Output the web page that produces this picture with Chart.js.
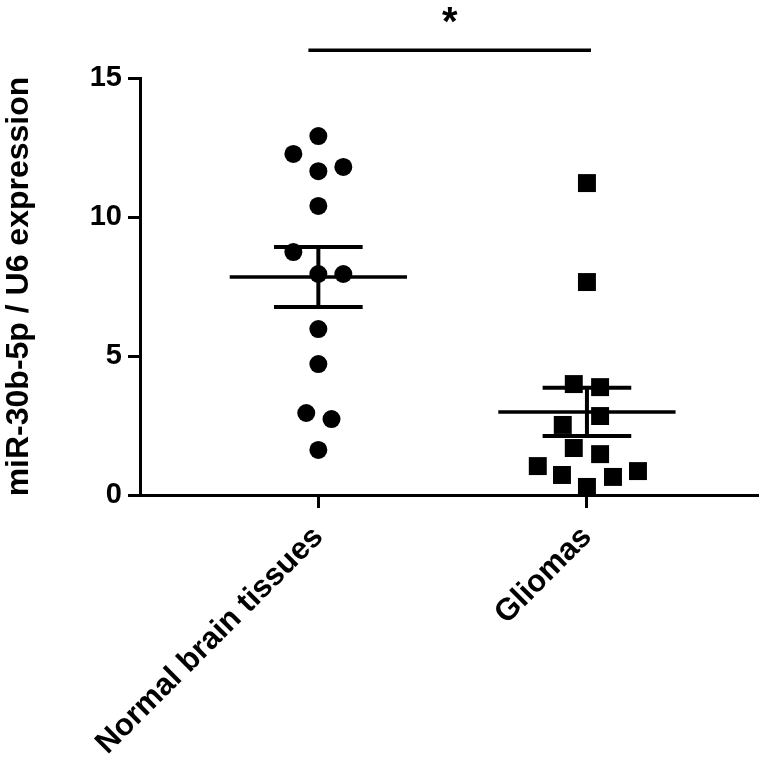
<!DOCTYPE html>
<html>
<head>
<meta charset="utf-8">
<script src="https://cdn.jsdelivr.net/npm/chart.js@4"></script>
<style>
  html, body { margin: 0; padding: 0; background: #fff; }
  #wrap { width: 771px; height: 760px; }
</style>
</head>
<body>
<div id="wrap"><canvas id="dotChart" width="771" height="760"></canvas></div>
<script>
// miR-30b-5p 表現量散點圖 (mean ± SEM)

const groupNames = ['Normal brain tissues', 'Gliomas'];
const groupPos = [1, 2];

// 正常腦組織 (圓點)
const normalX = [1, 0.907, 1, 1.093, 1, 0.907, 1, 1.093, 1, 1, 0.955, 1.049, 1];
const normalY = [12.91, 12.27, 11.65, 11.80, 10.40, 8.74, 7.95, 7.95, 5.97, 4.71, 2.95, 2.73, 1.62];

// 膠質瘤 (方塊)
const gliomaX = [2, 2, 1.951, 2.049, 2.049, 1.910, 1.951, 2.049, 1.817, 1.907, 2.097, 2.190, 2];
const gliomaY = [11.22, 7.66, 3.99, 3.88, 2.84, 2.52, 1.69, 1.47, 1.04, 0.72, 0.65, 0.86, 0.29];

const meanValues = [7.84, 2.99];
const semValues = [1.08, 0.87];

const yTicks = [0, 5, 10, 15];
const sigSpan = [0.963, 2.015];
const sigLevel = 16.0;
const sigLabel = '*';

const FONT = "Arial, 'Liberation Sans', sans-serif";
const MEAN_HALF = 0.33;
const CAP_HALF = 0.165;

function toPoints(xs, ys) {
    return xs.map((x, i) => ({ x: x, y: ys[i] }));
}

function lineSet(points, width) {
    return {
        type: 'line',
        data: points,
        showLine: true,
        borderColor: '#000',
        borderWidth: width,
        pointRadius: 0,
        fill: false,
        clip: false
    };
}

const datasets = [
    {
        label: groupNames[0],
        data: toPoints(normalX, normalY),
        pointStyle: 'circle',
        pointRadius: 9,
        backgroundColor: '#000',
        borderWidth: 0,
        clip: false
    },
    {
        label: groupNames[1],
        data: toPoints(gliomaX, gliomaY),
        pointStyle: 'rect',
        pointRadius: 12.7,
        backgroundColor: '#000',
        borderWidth: 0,
        clip: false
    }
];

// 平均線與誤差線
groupPos.forEach((c, i) => {
    const m = meanValues[i], s = semValues[i];
    datasets.push(lineSet([{ x: c - MEAN_HALF, y: m }, { x: c + MEAN_HALF, y: m }], 3.5));
    datasets.push(lineSet([{ x: c, y: m - s }, { x: c, y: m + s }], 4));
    datasets.push(lineSet([{ x: c - CAP_HALF, y: m + s }, { x: c + CAP_HALF, y: m + s }], 4));
    datasets.push(lineSet([{ x: c - CAP_HALF, y: m - s }, { x: c + CAP_HALF, y: m - s }], 4));
});

// 顯著性橫線
datasets.push(lineSet([{ x: sigSpan[0], y: sigLevel }, { x: sigSpan[1], y: sigLevel }], 3.5));

const sigStarPlugin = {
    id: 'sigStar',
    afterDatasetsDraw(chart) {
        const { ctx, scales } = chart;
        const x = scales.x.getPixelForValue((sigSpan[0] + sigSpan[1]) / 2);
        const y = scales.y.getPixelForValue(sigLevel);
        ctx.save();
        ctx.fillStyle = '#000';
        ctx.font = 'bold 40px ' + FONT;
        ctx.textAlign = 'center';
        ctx.textBaseline = 'alphabetic';
        ctx.fillText(sigLabel, x, y - 15);
        ctx.restore();
    }
};

new Chart(document.getElementById('dotChart').getContext('2d'), {
    type: 'scatter',
    data: { datasets: datasets },
    options: {
        responsive: false,
        animation: false,
        layout: { padding: { top: 78, right: 0, bottom: 0, left: 0 } },
        plugins: {
            legend: { display: false },
            tooltip: { enabled: false }
        },
        scales: {
            x: {
                type: 'linear',
                min: 0.336,
                max: 2.638,
                afterBuildTicks: (axis) => { axis.ticks = groupPos.map(v => ({ value: v })); },
                afterFit: (axis) => {
                    axis.height = 265;
                    axis.paddingLeft = 0;
                    axis.paddingRight = 0;
                },
                grid: {
                    drawOnChartArea: false,
                    tickLength: 13,
                    tickWidth: 3,
                    tickColor: '#000'
                },
                border: { display: true, color: '#000', width: 3 },
                ticks: {
                    autoSkip: false,
                    minRotation: 45,
                    maxRotation: 45,
                    padding: 11,
                    color: '#000',
                    font: { family: FONT, size: 31, weight: 'bold' },
                    callback: (v) => groupNames[groupPos.indexOf(v)] || ''
                }
            },
            y: {
                min: 0,
                max: 15,
                afterBuildTicks: (axis) => { axis.ticks = yTicks.map(v => ({ value: v })); },
                afterFit: (axis) => { axis.width = 140; },
                grid: {
                    drawOnChartArea: false,
                    tickLength: 12,
                    tickWidth: 3,
                    tickColor: '#000'
                },
                border: { display: true, color: '#000', width: 3 },
                ticks: {
                    padding: 6,
                    color: '#000',
                    font: { family: FONT, size: 29, weight: 'bold' }
                },
                title: {
                    display: true,
                    text: 'miR-30b-5p / U6 expression',
                    color: '#000',
                    font: { family: FONT, size: 32, weight: 'bold' },
                    padding: { top: 0, bottom: 0 }
                }
            }
        }
    },
    plugins: [sigStarPlugin]
});
</script>
</body>
</html>
